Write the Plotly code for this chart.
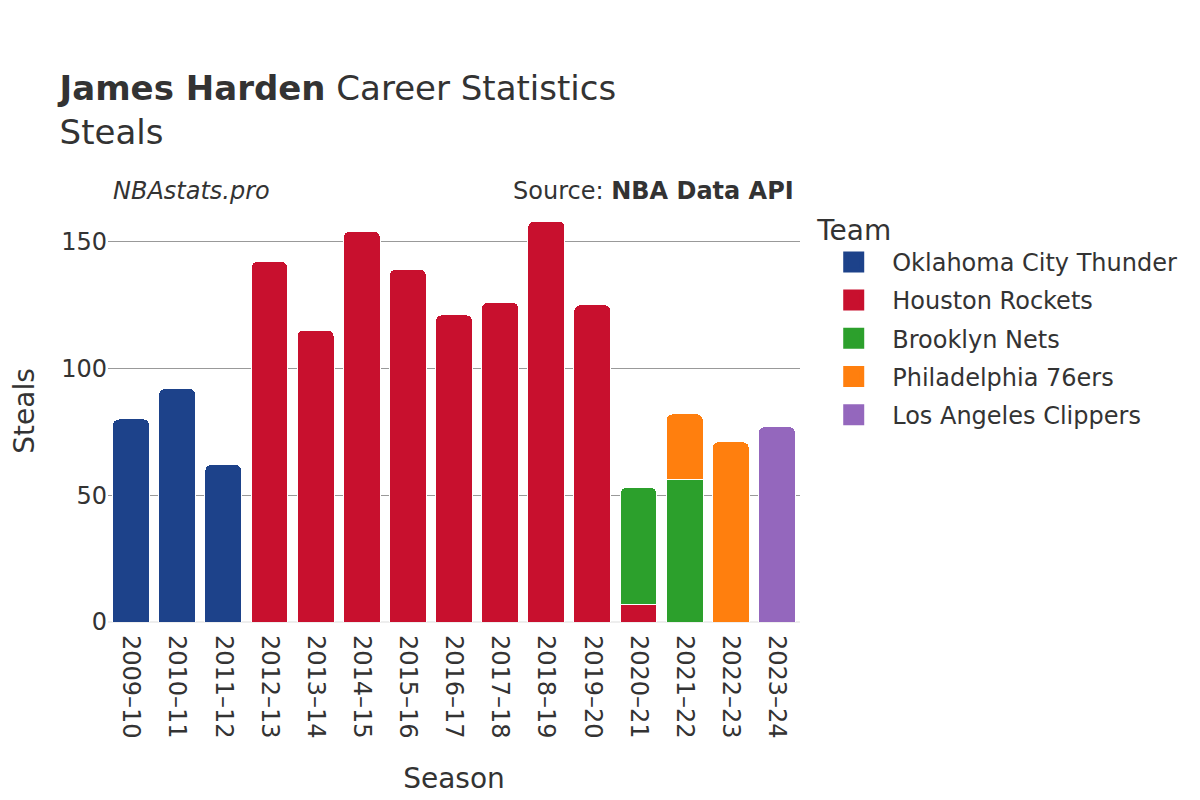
import plotly.graph_objects as go

seasons = ["2009–10", "2010–11", "2011–12", "2012–13", "2013–14", "2014–15", "2015–16",
           "2016–17", "2017–18", "2018–19", "2019–20", "2020–21", "2021–22", "2022–23", "2023–24"]

teams = ["Oklahoma City Thunder", "Houston Rockets", "Brooklyn Nets",
         "Philadelphia 76ers", "Los Angeles Clippers"]
colors = ["#1d428a", "#c8102e", "#2ca02c", "#ff7f0e", "#9467bd"]

okc_seasons = ["2009–10", "2010–11", "2011–12"]
okc_steals = [80, 92, 62]
hou_seasons = ["2012–13", "2013–14", "2014–15", "2015–16", "2016–17", "2017–18",
               "2018–19", "2019–20", "2020–21"]
hou_steals = [142, 115, 154, 139, 121, 126, 158, 125, 7]
bkn_seasons = ["2020–21", "2021–22"]
bkn_steals = [46, 56]
phi_seasons = ["2021–22", "2022–23"]
phi_steals = [26, 71]
lac_seasons = ["2023–24"]
lac_steals = [77]

series = [(okc_seasons, okc_steals), (hou_seasons, hou_steals), (bkn_seasons, bkn_steals),
          (phi_seasons, phi_steals), (lac_seasons, lac_steals)]

font = "DejaVu Sans"
fig = go.Figure()
for team, color, (xs, ys) in zip(teams, colors, series):
    fig.add_trace(go.Bar(x=xs, y=ys, name=team, legendgroup=team, showlegend=False,
                         marker=dict(color=color, line=dict(color="white", width=1))))
# legend entries with larger swatches
for team, color in zip(teams, colors):
    fig.add_trace(go.Scatter(x=[None], y=[None], mode="markers", name=team, legendgroup=team,
                             marker=dict(symbol="square", size=16, color=color,
                                         line=dict(color=color, width=5)),
                             hoverinfo="skip"))

fig.update_layout(
    width=1200, height=800,
    barmode="stack", bargap=0.2, barcornerradius=6,
    plot_bgcolor="white", paper_bgcolor="white",
    font=dict(family=font, color="#333333", size=24),
    margin=dict(l=100, r=408, t=192, b=186),
    title=dict(text="<b>James Harden</b> Career Statistics<br>Steals",
               x=0.043, xanchor="left", y=0.885, yanchor="top",
               font=dict(size=34, family=font, color="#333333")),
    legend=dict(title=dict(text="Team", font=dict(size=28)), font=dict(size=24),
                x=1.022, xanchor="left", y=0.992, yanchor="top",
                traceorder="grouped", itemsizing="trace", tracegroupgap=4,
                itemwidth=67),
    xaxis=dict(title=dict(text="Season", font=dict(size=28), standoff=30), tickangle=90,
               categoryorder="array", categoryarray=seasons, automargin=False,
               tickfont=dict(size=24), showgrid=False, ticklabelstandoff=12),
    yaxis=dict(title=dict(text="Steals", font=dict(size=28), standoff=41), range=[0, 166.3],
               tickvals=[0, 50, 100, 150], tickfont=dict(size=24), automargin=False,
               gridcolor="#999999", gridwidth=1, zeroline=True,
               zerolinecolor="#eeeeee", zerolinewidth=2),
    annotations=[
        dict(text="<i>NBAstats.pro</i>", x=0.005, xref="paper", y=0.984, yref="paper",
             xanchor="left", yanchor="bottom", showarrow=False,
             font=dict(size=24, color="#333333")),
        dict(text="Source: <b>NBA Data API</b>", x=0.994, xref="paper", y=0.984, yref="paper",
             xanchor="right", yanchor="bottom", showarrow=False,
             font=dict(size=24, color="#333333")),
    ],
)

fig.write_html("out.html")
